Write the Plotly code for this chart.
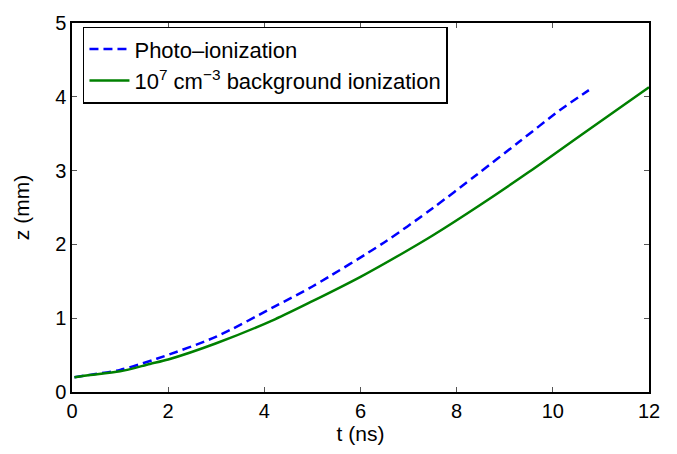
import plotly.graph_objects as go

# Streamer head position z (mm) vs time t (ns)
t_photo = [0.05, 0.3, 1.0, 1.76, 3.0, 4.22, 5.0, 6.5, 7.5, 8.41, 9.3, 10.15, 10.75]
z_photo = [0.20, 0.225, 0.30, 0.45, 0.75, 1.16, 1.43, 2.03, 2.49, 2.94, 3.39, 3.82, 4.09]

t_bg = [0.05, 0.3, 1.0, 1.62, 2.0, 3.0, 4.22, 5.0, 6.0, 6.85, 7.5, 8.48, 9.5, 10.56, 12.0]
z_bg = [0.20, 0.225, 0.28, 0.38, 0.44, 0.66, 0.985, 1.23, 1.56, 1.87, 2.12, 2.53, 2.98, 3.47, 4.13]

x_ticks = [0, 2, 4, 6, 8, 10, 12]
y_ticks = [0, 1, 2, 3, 4, 5]

font = "Liberation Sans, Arial, Helvetica, sans-serif"

fig = go.Figure()
fig.add_trace(go.Scatter(
    x=t_photo, y=z_photo, mode="lines", name="Photo\u2013ionization",
    line=dict(color="#0000ff", width=2.5, dash="9px,5px", shape="spline", smoothing=0.8),
))
fig.add_trace(go.Scatter(
    x=t_bg, y=z_bg, mode="lines",
    name="10<sup>7</sup> cm<sup>\u22123</sup> background ionization",
    line=dict(color="#008000", width=2.5, shape="spline", smoothing=0.8),
))

axis_common = dict(
    showgrid=False, zeroline=False, showline=True, linecolor="black",
    linewidth=1.5, mirror="ticks", ticks="inside", ticklen=5,
    tickcolor="#555555", tickwidth=1,
    tickfont=dict(family=font, size=20, color="black"),
)

fig.update_layout(
    width=677, height=454,
    margin=dict(l=72, r=28, t=13, b=62),
    paper_bgcolor="white", plot_bgcolor="white",
    font=dict(family=font, size=20, color="black"),
    xaxis=dict(range=[0, 12], tickvals=x_ticks,
               title=dict(text="t (ns)", font=dict(size=21), standoff=5),
               **axis_common),
    yaxis=dict(range=[0, 5], tickvals=y_ticks,
               title=dict(text="z (mm)", font=dict(size=21), standoff=20),
               **axis_common),
    legend=dict(
        x=0.019, y=0.99, xanchor="left", yanchor="top",
        bgcolor="white", bordercolor="black", borderwidth=1.5,
        font=dict(family=font, size=22), tracegroupgap=0,
        itemwidth=40,
    ),
    showlegend=True,
)

fig.write_html("out.html")
